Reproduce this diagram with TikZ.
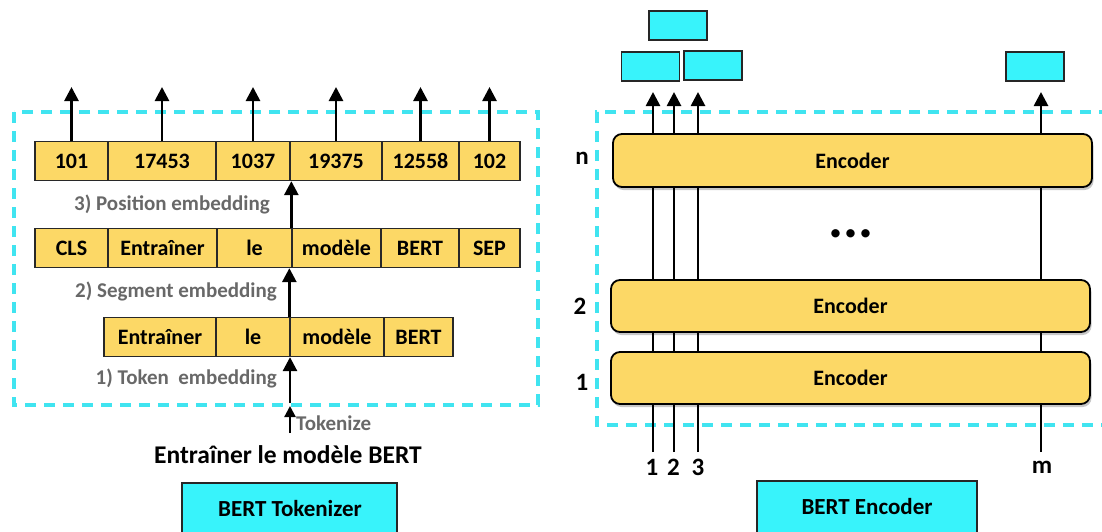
\documentclass[tikz,border=0pt]{standalone}
\usepackage{fontspec}
\setmainfont{Carlito}
\usetikzlibrary{arrows.meta,shadows}

\definecolor{cellyellow}{RGB}{252,216,102}
\definecolor{boxcyan}{RGB}{56,243,251}
\definecolor{dashcyan}{RGB}{64,228,240}
\definecolor{labelgray}{RGB}{104,104,104}
\definecolor{cellline}{RGB}{40,40,40}

\newcommand\fsz[1]{\fontsize{#1}{#1}\selectfont\bfseries}

\begin{document}
\begin{tikzpicture}[x=1pt,y=-1pt,
  cell/.style={draw=cellline, line width=1.3pt, fill=cellyellow,
    minimum height=39pt, inner sep=0pt, font=\fsz{22}},
  encoder/.style={draw=black, line width=1.8pt, fill=cellyellow,
    rounded corners=9pt, inner sep=0pt, font=\fsz{22},
    drop shadow={shadow xshift=1.5pt, shadow yshift=-3pt, fill=black, opacity=0.22}},
  outbox/.style={draw=black!85, line width=1.2pt, fill=boxcyan,
    minimum width=58pt, minimum height=29pt, inner sep=0pt},
  titlebox/.style={draw=black!85, line width=1.2pt, fill=boxcyan, inner sep=0pt},
  steplabel/.style={text=labelgray, font=\fsz{21}, inner sep=0pt},
  plainlabel/.style={font=\fsz{25}, inner sep=0pt},
  arr/.style={line width=2.7pt, -{Triangle[width=14pt,length=14pt]}},
  smallarr/.style={line width=2.2pt, -{Triangle[width=11pt,length=11pt]}},
  wire/.style={line width=2.6pt},
  frame/.style={draw=dashcyan, line width=3.2pt, dash pattern=on 11pt off 8pt}
]
\clip (0,0) rectangle (1102,531);

% ---------- tokenizer side ----------
\draw[frame] (14,112) rectangle (538,405);

% token ids
\node[cell, minimum width=73pt]  (r1a) at (71.5,161) {101};
\node[cell, minimum width=108pt] (r1b) at (162,161)  {17453};
\node[cell, minimum width=74pt]  (r1c) at (253,161)  {1037};
\node[cell, minimum width=92pt]  (r1d) at (336,161)  {19375};
\node[cell, minimum width=77pt]  (r1e) at (420.5,161) {12558};
\node[cell, minimum width=61pt]  (r1f) at (489.5,161) {102};

% tokens with special markers
\node[cell, minimum width=73pt]  (r2a) at (71.5,248) {CLS};
\node[cell, minimum width=109pt] (r2b) at (162.5,248) {Entraîner};
\node[cell, minimum width=75pt]  (r2c) at (254.5,248) {le};
\node[cell, minimum width=89pt]  (r2d) at (336.5,248) {modèle};
\node[cell, minimum width=78pt]  (r2e) at (420,248)  {BERT};
\node[cell, minimum width=61pt]  (r2f) at (489.5,248) {SEP};

% raw tokens
\node[cell, minimum width=112pt] (r3a) at (160,337)  {Entraîner};
\node[cell, minimum width=74pt]  (r3b) at (253,337)  {le};
\node[cell, minimum width=94pt]  (r3c) at (337,337)  {modèle};
\node[cell, minimum width=69pt]  (r3d) at (418.5,337) {BERT};

% outputs of the id row
\coordinate (idtop) at (0,87);
\foreach \c in {r1a,r1b,r1c,r1d,r1e,r1f}
  \draw[arr] (\c.north) -- (\c.north |- idtop);

\draw[arr] (r2d.north west) -- (r2d.north west |- r1d.south);
\draw[arr] (r3c.north west) -- (r3c.north west |- r2d.south);
\coordinate (tokin) at (290,403);
\draw[arr] (tokin) -- (tokin |- r3c.south);

\node[steplabel, anchor=east] (lpos) at (270,204) {3) Position embedding};
\node[steplabel, anchor=east] (lseg) at (277,291) {2) Segment embedding};
\node[steplabel, anchor=east] (ltok) at (277,378) {1) Token\ \ embedding};

\coordinate (tkbot) at (290,433);
\coordinate (tktop) at (290,406);
\draw[smallarr] (tkbot) -- (tktop);
\node[steplabel, anchor=west] (ltkz) at (296,423) {Tokenize};

\node[font=\fsz{25.5}, inner sep=0pt] (sent) at (288,455) {Entraîner le modèle BERT};

\node[titlebox, minimum width=215pt, minimum height=57pt] (tokz) at (289.5,511.5) {};
\node[font=\fsz{23}, inner sep=0pt] (tokzt) at (290,509) {BERT Tokenizer};

% ---------- encoder side ----------
\draw[frame] (1110,112) -- (597,112) -- (597,425) -- (1110,425);

\node[encoder, minimum width=479pt, minimum height=53pt] (encn) at (852.5,160.5) {Encoder};
\node[encoder, minimum width=479pt, minimum height=52pt] (enc2) at (850.5,306) {Encoder};
\node[encoder, minimum width=479pt, minimum height=52pt] (enc1) at (850.5,378) {Encoder};

\node[font=\fsz{56}, inner sep=0pt] (dots) at (851,234) {...};

\node[plainlabel] (ln) at (582,158) {n};
\node[plainlabel] (l2) at (580,306) {2};
\node[plainlabel] (l1) at (582,382) {1};

% input positions
\coordinate (w1) at (653,452);
\coordinate (w2) at (674,452);
\coordinate (w3) at (698,452);
\coordinate (wm) at (1041,452);
\node[plainlabel] (i1) at (652,467) {1};
\node[plainlabel] (i2) at (673.5,467) {2};
\node[plainlabel] (i3) at (698,467) {3};
\node[plainlabel] (im) at (1042,467) {m};

\coordinate (tips) at (0,92);
\foreach \w in {w1,w2,w3,wm}{
  \draw[wire] (\w) -- (\w |- enc1.south);
  \draw[wire] (\w |- enc1.north) -- (\w |- enc2.south);
  \draw[wire] (\w |- enc2.north) -- (\w |- encn.south);
  \draw[arr] (\w |- encn.north) -- (\w |- tips);
}

% output vectors
\node[outbox] (ob1) at (678,25.5) {};
\node[outbox] (ob2) at (650.5,66.5) {};
\node[outbox] (ob3) at (713,65.5) {};
\node[outbox] (ob4) at (1035,66.5) {};

\node[titlebox, minimum width=220pt, minimum height=59pt] (encb) at (867,510.5) {};
\node[font=\fsz{23}, inner sep=0pt] (encbt) at (867,507) {BERT Encoder};
\end{tikzpicture}
\end{document}
